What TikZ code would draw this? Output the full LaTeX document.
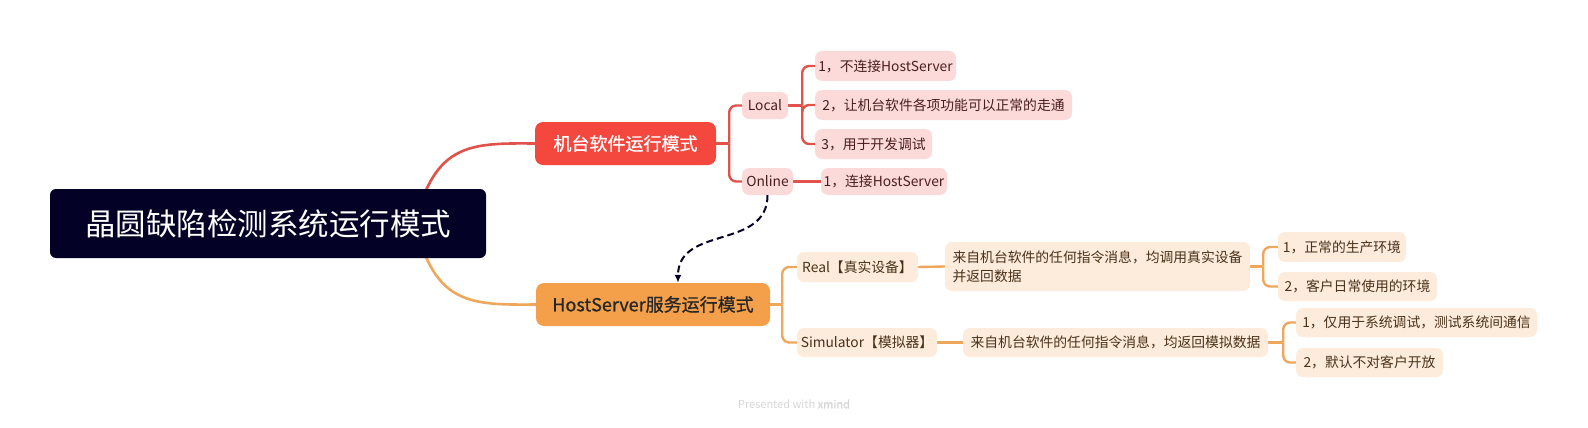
\documentclass[tikz,border=0pt]{standalone}
\usepackage{fontspec}
\setmainfont{Noto Sans CJK SC}
\newfontfamily\titlecjk{Noto Sans CJK SC}[FakeBold=0.8]
\newfontfamily\footcjk{Noto Sans CJK SC}[FakeBold=1.5]
\usetikzlibrary{backgrounds,arrows.meta}
\definecolor{rootnavy}{HTML}{030226}
\definecolor{mred}{HTML}{F4483F}
\definecolor{mredline}{HTML}{E0524A}
\definecolor{pinkfill}{HTML}{FDDADA}
\definecolor{pinktext}{HTML}{4A1E1E}
\definecolor{morange}{HTML}{F4A04A}
\definecolor{morangeline}{HTML}{EFA75C}
\definecolor{peachfill}{HTML}{FDEBDC}
\definecolor{peachtext}{HTML}{4A3119}
\definecolor{foottext}{HTML}{D6D6D6}
\tikzset{
  rootbox/.style={fill=rootnavy, text=white, rounded corners=6pt, inner sep=0pt,
    font=\fontsize{30.5}{36}\selectfont},
  mainred/.style={fill=mred, text=white, rounded corners=8pt, inner sep=0pt,
    font=\titlecjk\fontsize{18}{22}\selectfont},
  mainorange/.style={fill=morange, text=black!85, rounded corners=8pt, inner sep=0pt,
    font=\titlecjk\fontsize{18}{22}\selectfont},
  subred/.style={fill=pinkfill, text=pinktext, rounded corners=7pt, inner sep=0pt,
    font=\fontsize{13.8}{19}\selectfont},
  suborange/.style={fill=peachfill, text=peachtext, rounded corners=7pt, inner sep=0pt,
    font=\fontsize{13.8}{19}\selectfont, align=left},
  redline/.style={draw=mredline, line width=2.4pt, rounded corners=7pt},
  orangeline/.style={draw=morangeline, line width=2.4pt, rounded corners=7pt},
}
\begin{document}
\begin{tikzpicture}[x=1pt,y=-1pt]
\useasboundingbox (0,0) rectangle (1588,428);

\node[rootbox, minimum width=436, minimum height=69] (root) at (268,223.5) {晶圆缺陷检测系统运行模式};
\node[mainred, minimum width=181, minimum height=43] (machine) at (625.5,143.5) {机台软件运行模式};
\node[mainorange, minimum width=234, minimum height=43] (host) at (653,304.5) {HostServer服务运行模式};

\node[subred, minimum width=46, minimum height=27] (local) at (765,105.5) {Local};
\node[subred, minimum width=51, minimum height=27] (online) at (767.5,181.5) {Online};
\node[subred, minimum width=141, minimum height=30] (local1) at (885.5,66) {1，不连接HostServer};
\node[subred, minimum width=257, minimum height=30] (local2) at (943.5,105) {2，让机台软件各项功能可以正常的走通};
\node[subred, minimum width=117, minimum height=30] (local3) at (873.5,144) {3，用于开发调试};
\node[subred, minimum width=126, minimum height=27] (online1) at (884,181.5) {1，连接HostServer};

\node[suborange, minimum width=121, minimum height=30] (real) at (857.5,267) {Real【真实设备】};
\node[suborange, minimum width=140, minimum height=29] (sim) at (867,342.5) {Simulator【模拟器】};
\node[suborange, minimum width=305, minimum height=49] (realdesc) at (1097.5,266.5) {来自机台软件的任何指令消息，均调用真实设备\\并返回数据};
\node[suborange, minimum width=305, minimum height=29] (simdesc) at (1115.5,342.5) {来自机台软件的任何指令消息，均返回模拟数据};
\node[suborange, minimum width=128, minimum height=30] (real1) at (1342,247) {1，正常的生产环境};
\node[suborange, minimum width=159, minimum height=29] (real2) at (1357.5,286.5) {2，客户日常使用的环境};
\node[suborange, minimum width=241, minimum height=29] (sim1) at (1416.5,322.5) {1，仅用于系统调试，测试系统间通信};
\node[suborange, minimum width=147, minimum height=29] (sim2) at (1369.5,362.5) {2，默认不对客户开放};

\node[text=foottext, font=\fontsize{11}{13}\selectfont] (foot) at (794,404) {Presented with {\footcjk xmind}};

\begin{scope}[on background layer]
\draw[mredline, line width=2.6pt] (root.center) ++(147,0) .. controls (435,143) and (470,143) .. (machine.west);
\draw[morangeline, line width=2.6pt] (root.center) ++(147,0) .. controls (435,305) and (470,305) .. (host.west);

\draw[redline] (machine.east) -- ++(13,0) coordinate (mj);
\draw[redline] (mj) |- (local.west);
\draw[redline] (mj) |- (online.west);
\draw[redline] (local.east) -- ++(14,0) coordinate (lj);
\draw[redline] (lj) |- (local1.west);
\draw[redline] (lj) |- (local2.west);
\draw[redline] (lj) |- (local3.west);
\draw[redline] (online.east) -- (online1.west);

\draw[orangeline] (host.east) -- ++(12,0) coordinate (hj);
\draw[orangeline] (hj) |- (real.west);
\draw[orangeline] (hj) |- (sim.west);
\draw[orangeline] (real.east) -- (realdesc.west);
\draw[orangeline] (sim.east) -- (simdesc.west);
\draw[orangeline] (realdesc.east) -- ++(13,0) coordinate (rj);
\draw[orangeline] (rj) |- (real1.west);
\draw[orangeline] (rj) |- (real2.west);
\draw[orangeline] (simdesc.east) -- ++(15,0) coordinate (sj);
\draw[orangeline] (sj) |- (sim1.west);
\draw[orangeline] (sj) |- (sim2.west);
\end{scope}

\coordinate (arrowx) at (678,0);
\draw[rootnavy, line width=2pt, dash pattern=on 7pt off 4pt, -{Latex[length=8pt,width=7pt]}] (online.south) .. controls (767.5,250) and (678,225) .. (arrowx |- host.north);

\end{tikzpicture}
\end{document}
